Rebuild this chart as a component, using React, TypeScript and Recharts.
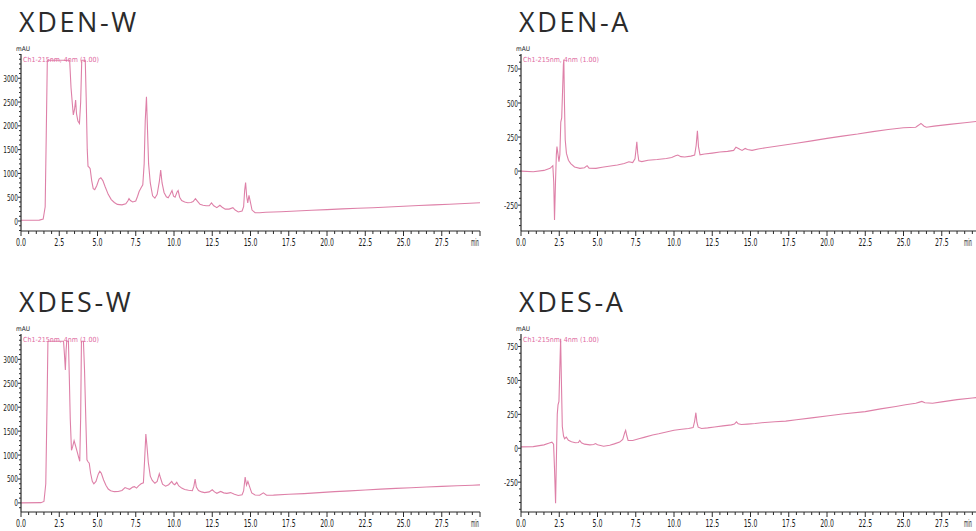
import React from 'react'
import { LineChart, Line, XAxis, YAxis } from 'recharts'

// axis labels
const TIME_TICKS = [0, 2.5, 5, 7.5, 10, 12.5, 15, 17.5, 20, 22.5, 25, 27.5, 30]
const W_TICKS = [0, 500, 1000, 1500, 2000, 2500, 3000]
const A_TICKS = [-250, 0, 250, 500, 750]

// XDEN-W (min / mAU)
const denWTime = [
  0, 1.2, 1.45, 1.58, 1.65, 1.72, 3.18, 3.27, 3.36, 3.42, 3.5, 3.57, 3.63, 3.72, 3.82, 3.9, 3.97, 4.2,
  4.26, 4.33, 4.38, 4.45, 4.52, 4.62, 4.72, 4.82, 4.95, 5.1, 5.22, 5.35, 5.5, 5.7, 5.9, 6.1, 6.3, 6.6,
  6.85, 6.98, 7.06, 7.15, 7.3, 7.5, 7.62, 7.72, 7.85, 7.96, 8.05, 8.12, 8.2, 8.27, 8.34, 8.45, 8.6, 8.75,
  8.9, 9.05, 9.13, 9.22, 9.35, 9.5, 9.62, 9.75, 9.87, 9.97, 10.07, 10.2, 10.27, 10.37, 10.5, 10.7, 10.9,
  11.1, 11.25, 11.4, 11.5, 11.7, 11.9, 12.1, 12.3, 12.45, 12.6, 12.8, 13.0, 13.15, 13.35, 13.6, 13.85,
  14.0, 14.2, 14.45, 14.55, 14.62, 14.68, 14.75, 14.82, 14.9, 14.98, 15.1, 15.3, 15.6, 16, 17, 18, 19,
  20, 21, 22, 23, 24, 25, 26, 27, 28, 29, 30,
]
const denWAbs = [
  15, 18, 40, 300, 1800, 3380, 3380, 2800, 2450, 2230, 2350, 2540, 2250, 2100, 2050, 2500, 3380, 3380,
  2600, 1500, 1150, 1130, 1100, 850, 680, 660, 740, 880, 910, 850, 720, 560, 450, 390, 350, 340,
  360, 420, 470, 430, 400, 420, 520, 620, 700, 760, 1200, 2100, 2610, 1900, 1200, 800, 530, 480,
  560, 850, 1070, 800, 600, 510, 490, 560, 640, 520, 500, 610, 640, 500, 430, 400, 385,
  390, 410, 470, 430, 350, 330, 320, 320, 380, 320, 280, 330, 290, 250, 250, 280,
  230, 190, 210, 300, 650, 810, 520, 380, 540, 420, 230, 175, 175, 185, 195, 210, 225,
  240, 255, 268, 280, 295, 310, 325, 340, 352, 368, 385,
]

// XDEN-A
const denATime = [
  0, 0.8, 1.5, 1.9, 2.08, 2.14, 2.19, 2.25, 2.31, 2.35, 2.41, 2.48, 2.54, 2.6, 2.66, 2.72, 2.77, 2.8,
  2.84, 2.89, 2.97, 3.1, 3.25, 3.5, 3.85, 4.15, 4.32, 4.45, 4.9, 5.3, 5.85, 6.3, 6.75, 7.05, 7.3, 7.45,
  7.52, 7.57, 7.63, 7.7, 7.9, 8.3, 8.9, 9.5, 9.85, 10.1, 10.25, 10.45, 10.7, 11.1, 11.35, 11.45, 11.53,
  11.6, 11.7, 12.0, 12.5, 13.0, 13.5, 13.9, 14.05, 14.15, 14.3, 14.45, 14.65, 14.8, 15.1, 15.5, 16,
  17, 18, 19, 20, 21, 22, 23, 24, 25, 25.8, 26.0, 26.14, 26.35, 26.5, 27, 28, 29, 30,
]
const denAAbs = [
  0, -5, 5, 20, 40, -80, -360, -100, 120, 180, 130, 70, 120, 360, 390, 600, 780, 820,
  500, 230, 130, 80, 55, 30, 20, 25, 40, 22, 20, 28, 37, 45, 56, 68, 62, 90,
  160, 215, 130, 75, 70, 80, 85, 92, 100, 112, 118, 106, 104, 110, 118, 190, 296,
  180, 120, 125, 132, 140, 145, 152, 175, 170, 160, 152, 166, 158, 152, 162, 172,
  188, 204, 222, 240, 257, 272, 290, 306, 318, 322, 338, 350, 330, 322, 330, 343, 355, 368,
]

// XDES-W
const desWTime = [
  0, 1.3, 1.5, 1.62, 1.7, 1.76, 2.78, 2.84, 2.9, 2.95, 2.99, 3.1, 3.16, 3.22, 3.3, 3.38, 3.47, 3.56,
  3.66, 3.76, 3.84, 3.9, 3.95, 4.08, 4.15, 4.24, 4.31, 4.38, 4.46, 4.55, 4.66, 4.76, 4.9, 5.05, 5.15,
  5.25, 5.4, 5.55, 5.7, 5.86, 6.1, 6.35, 6.6, 6.8, 6.95, 7.1, 7.3, 7.42, 7.55, 7.7, 7.85, 8.0, 8.08,
  8.16, 8.23, 8.32, 8.45, 8.58, 8.75, 8.9, 9.04, 9.12, 9.25, 9.45, 9.65, 9.85, 9.95, 10.05, 10.18,
  10.3, 10.5, 10.7, 10.95, 11.2, 11.3, 11.38, 11.46, 11.6, 11.8, 12.0, 12.3, 12.5, 12.65, 12.8, 13.05,
  13.25, 13.45, 13.7, 13.95, 14.2, 14.45, 14.55, 14.65, 14.74, 14.83, 14.95, 15.08, 15.3, 15.6, 15.84,
  16.05, 16.5, 17.5, 18.5, 19.5, 20.5, 21.5, 22.5, 23.5, 24.5, 25.5, 26.5, 27.5, 28.5, 29.5, 30,
]
const desWAbs = [
  0, 5, 30, 400, 2000, 3380, 3380, 3100, 2780, 3200, 3380, 3380, 2600, 1750, 1100, 1180, 1300, 1200,
  1080, 960, 870, 1800, 3380, 3380, 2800, 1700, 900, 860, 830, 620, 450, 400, 450, 600, 660,
  620, 480, 370, 290, 255, 235, 240, 260, 320, 300, 285, 330, 340, 310, 360, 400, 420, 900,
  1440, 1200, 850, 560, 470, 410, 450, 610, 520, 390, 350, 380, 450, 400, 380, 430,
  360, 310, 280, 265, 255, 350, 500, 330, 260, 230, 215, 230, 275, 230, 200, 240,
  210, 200, 215, 180, 155, 170, 250, 540, 370, 450, 330, 210, 165, 160, 210,
  160, 162, 180, 195, 215, 235, 252, 270, 288, 303, 318, 333, 346, 358, 370, 377,
]

// XDES-A
const desATime = [
  0, 0.8, 1.5, 1.85, 2.02, 2.13, 2.19, 2.26, 2.31, 2.37, 2.42, 2.48, 2.54, 2.59, 2.64, 2.7, 2.78, 2.85,
  2.96, 3.1, 3.3, 3.55, 3.75, 3.84, 3.95, 4.15, 4.5, 4.75, 4.87, 5.0, 5.4, 5.8, 6.1, 6.45, 6.65, 6.78,
  6.84, 6.92, 7.0, 7.3, 7.7, 8.1, 8.6, 9.0, 9.5, 10.0, 10.5, 10.95, 11.25, 11.35, 11.43, 11.5, 11.58,
  11.8, 12.2, 12.65, 13.2, 13.75, 13.95, 14.08, 14.2, 14.4, 14.8, 15.3, 15.94, 16.6, 17.3, 18, 19,
  20.1, 21, 22.5, 23.5, 24.5, 25.13, 25.8, 26.05, 26.2, 26.4, 26.9, 27.5, 28.5, 29.5, 30,
]
const desAAbs = [
  10, 12, 25, 38, 45, 30, -150, -405, -100, 250, 320, 345, 600, 807, 500, 160, 90, 70,
  82, 58, 48, 40, 42, 57, 40, 30, 25, 28, 34, 25, 15, 22, 32, 45, 65, 115,
  132, 90, 58, 57, 70, 82, 98, 107, 120, 132, 140, 145, 152, 200, 262, 190, 155,
  145, 150, 157, 165, 172, 178, 195, 180, 175, 178, 182, 190, 195, 200, 210, 224,
  240, 252, 270, 290, 308, 320, 332, 340, 345, 335, 332, 342, 358, 370, 376,
]

const TRACE = '#de80a8'
const AXIS = '#2a2a2a'
const TICK_FONT = "'DejaVu Sans Condensed', 'Liberation Sans', sans-serif"

const minorTime = Array.from({ length: 61 }, (_, i) => i * 0.5)

// squeeze labels to the narrow printer font of the original
const labelWidth = (s: string) =>
  s.split('').reduce((w, c) => w + (c === '.' ? 2.6 : c === '-' ? 2.8 : 3.7), 0)

function TimeTick(props: any) {
  const { x, y, payload, maxX } = props
  const v = payload.value as number
  const major = TIME_TICKS.some((t) => Math.abs(t - v) < 1e-6)
  const last = v === 30
  const label = last ? 'min' : v.toFixed(1)
  return (
    <g>
      <line x1={x} x2={x} y1={y} y2={y + (major ? 5 : 3)} stroke={AXIS} strokeWidth={1} />
      {major && (
        <text
          x={last ? Math.min(x - 1, maxX) : x}
          y={y + 15}
          textAnchor={last ? 'end' : 'middle'}
          fontSize={10}
          fontFamily={TICK_FONT}
          fill="#1a1a1a"
          textLength={last ? 8 : labelWidth(label)}
          lengthAdjust="spacingAndGlyphs"
        >
          {label}
        </text>
      )}
    </g>
  )
}

function AbsTick(props: any) {
  const { x, y, payload, labels } = props
  const v = payload.value as number
  const major = labels.includes(v)
  const label = String(v)
  return (
    <g>
      <line x1={x - (major ? 3 : 2)} x2={x} y1={y} y2={y} stroke={AXIS} strokeWidth={1} />
      {major && (
        <text
          x={x - 3}
          y={y + 3.5}
          textAnchor="end"
          fontSize={9.5}
          fontFamily={TICK_FONT}
          fill="#1a1a1a"
          textLength={labelWidth(label)}
          lengthAdjust="spacingAndGlyphs"
        >
          {label}
        </text>
      )}
    </g>
  )
}

interface PanelProps {
  title: string
  time: number[]
  abs: number[]
  left: number
  top: number
  domain: [number, number]
  labels: number[]
  minorStep: number
  bottomPad: number
}

function Panel({ title, time, abs, left, top, domain, labels, minorStep, bottomPad }: PanelProps) {
  const data = time.map((t, i) => ({ t, v: abs[i] }))
  const minorAbs: number[] = []
  for (let v = Math.ceil(domain[0] / minorStep) * minorStep; v <= domain[1]; v += minorStep) minorAbs.push(v)
  // keep the "min" label inside the page on the right column
  const maxX = 972 - left

  return (
    <div style={{ position: 'absolute', left, top, width: 490, height: 260 }}>
      <div
        style={{
          position: 'absolute', left: 19, top: 7.7, lineHeight: 1, fontSize: 27,
          fontFamily: "'Open Sans', sans-serif", letterSpacing: 2.6, color: '#2b2b2b', whiteSpace: 'nowrap',
        }}
      >
        {title}
      </div>
      <div style={{ position: 'absolute', left: 16, top: 45, fontSize: 6.5, fontFamily: TICK_FONT, color: '#222' }}>
        mAU
      </div>
      <div
        style={{
          position: 'absolute', left: 23, top: 56, fontSize: 7, fontFamily: TICK_FONT,
          color: '#e06aa0', whiteSpace: 'nowrap', zIndex: 2,
        }}
      >
        Ch1-215nm, 4nm (1.00)
      </div>
      <LineChart width={490} height={260} data={data} margin={{ top: 54, right: 10, bottom: bottomPad, left: 0 }}>
        <XAxis
          dataKey="t" type="number" domain={[0, 30]} ticks={minorTime} interval={0}
          tick={(p: any) => <TimeTick {...p} maxX={maxX} />} tickLine={false} tickSize={0} tickMargin={0}
          height={20} axisLine={{ stroke: AXIS, strokeWidth: 1.2 }}
        />
        <XAxis
          xAxisId="top" orientation="top" type="number" domain={[0, 30]} height={0}
          tick={false} tickLine={false} axisLine={{ stroke: AXIS, strokeWidth: 2 }}
        />
        <YAxis
          type="number" domain={domain} ticks={minorAbs} interval={0} width={21}
          tick={(p: any) => <AbsTick {...p} labels={labels} />} tickLine={false} tickSize={0} tickMargin={0}
          axisLine={{ stroke: AXIS, strokeWidth: 1.2 }} allowDataOverflow
        />
        <YAxis
          yAxisId="right" orientation="right" type="number" domain={domain} width={0}
          tick={false} tickLine={false} axisLine={{ stroke: AXIS, strokeWidth: 1.5 }}
        />
        <Line type="linear" dataKey="v" stroke={TRACE} strokeWidth={1.1} dot={false} isAnimationActive={false} />
      </LineChart>
    </div>
  )
}

export default function App() {
  return (
    <div
      style={{
        position: 'absolute', left: 0, top: 0, width: 976, height: 531,
        overflow: 'hidden', background: '#fff',
      }}
    >
      <Panel title="XDEN-W" time={denWTime} abs={denWAbs} left={0} top={0}
        domain={[-210, 3510]} labels={W_TICKS} minorStep={100} bottomPad={9} />
      <Panel title="XDEN-A" time={denATime} abs={denAAbs} left={500} top={0}
        domain={[-440, 860]} labels={A_TICKS} minorStep={50} bottomPad={9} />
      <Panel title="XDES-W" time={desWTime} abs={desWAbs} left={0} top={280}
        domain={[-190, 3530]} labels={W_TICKS} minorStep={100} bottomPad={8} />
      <Panel title="XDES-A" time={desATime} abs={desAAbs} left={500} top={280}
        domain={[-470, 842]} labels={A_TICKS} minorStep={50} bottomPad={8} />
    </div>
  )
}
